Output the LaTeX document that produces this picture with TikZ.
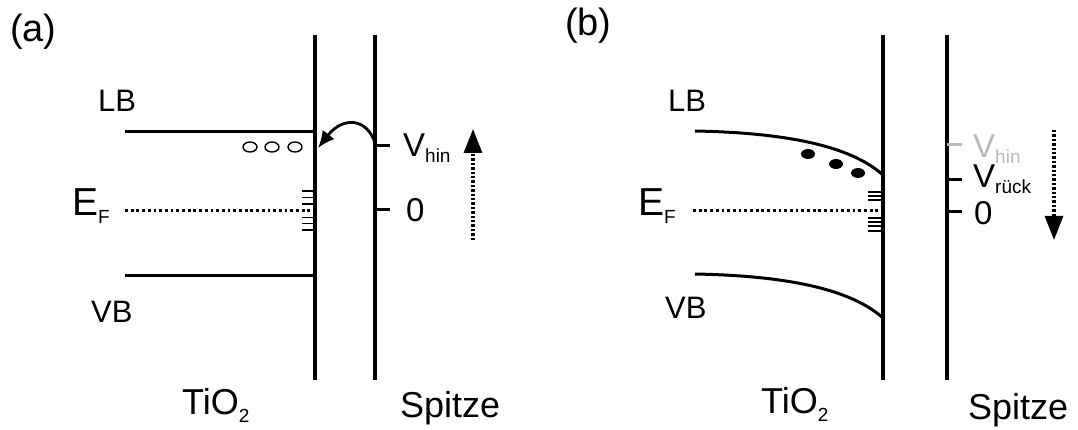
\documentclass[tikz,border=0pt]{standalone}
\usepackage{fontspec}
\setmainfont{Liberation Sans}
\usetikzlibrary{arrows.meta, positioning, calc}

\definecolor{hingray}{HTML}{B8B8B8}
\newcommand{\fs}[1]{\fontsize{#1}{#1}\selectfont}
\newcommand{\lowidx}[2]{\raisebox{-#1}{\fs{19}#2}}

\begin{document}
\begin{tikzpicture}[
    x=1pt, y=-1pt,
    lbl/.style={anchor=base west, inner sep=0pt, font=\fs{33}},
    wall/.style={line width=3.2pt},
    band/.style={line width=3pt},
    fermi/.style={line width=3pt, dash pattern=on 2.8pt off 2.9pt},
    state/.style={line width=1.5pt},
    tick/.style={line width=3pt},
    sweep/.style={line width=3.2pt, dash pattern=on 2.4pt off 2pt, -{Triangle[length=24pt,width=18pt]}}
  ]
  \useasboundingbox (0,0) rectangle (1078,430);

  % (a) flat bands, tip at V_hin
  \coordinate (aTiT) at (315,35);  \coordinate (aTiB) at (315,380);
  \coordinate (aSpT) at (375,35);  \coordinate (aSpB) at (375,380);
  \draw[wall] (aTiT) -- (aTiB);
  \draw[wall] (aSpT) -- (aSpB);
  \coordinate (aLBl) at (125,132);
  \coordinate (aVBl) at (125,275);
  \coordinate (aEFl) at (125,211);
  \draw[band] (aLBl) -- (aLBl -| aTiT);
  \draw[band] (aVBl) -- (aVBl -| aTiT);
  \draw[fermi] (aEFl) -- (310,211);
  \foreach \y in {191,197.5,204,217.5,223.5,230}
    \draw[state] (302,\y) -- (315,\y);
  \foreach \x in {250,272,295}
    \draw[line width=1.4pt] (\x,147) ellipse [x radius=7, y radius=5];
  \coordinate (aHin) at (375,146);
  \coordinate (aZero) at (375,210);
  \draw[tick] (aHin) -- ++(15,0);
  \draw[tick] (aZero) -- ++(15,0);
  \coordinate (aJump) at (318,148);
  \draw[line width=2.8pt, -{Latex[length=17pt,width=15pt]}] (375,143) .. controls (367,118) and (343,116) .. (aJump);
  \coordinate (aUp0) at (473,240);  \coordinate (aUp1) at (473,129);
  \draw[sweep] (aUp0) -- (aUp1);

  \node[lbl, font=\fs{38}] (alab) at (10,42) {(a)};
  \node[lbl, font=\fs{31}] (aLB) at (98,112) {LB};
  \node[lbl, font=\fs{31}] (aVB) at (91,322) {VB};
  \node[lbl, font=\fs{39}] (aEF) at (72,216) {E\lowidx{8pt}{F}};
  \node[lbl] (aVhin) at (403,157) {V\lowidx{6pt}{hin}};
  \node[lbl] (aNull) at (406,222) {0};
  \node[lbl, font=\fs{36}] (aTi) at (182,414) {TiO\lowidx{8pt}{2}};
  \node[lbl, font=\fs{36}] (aSp) at (400,417) {Spitze};

  % (b) bent bands, tip at V_rueck
  \coordinate (bTiT) at (883,35);  \coordinate (bTiB) at (883,380);
  \coordinate (bSpT) at (947,35);  \coordinate (bSpB) at (947,380);
  \draw[wall] (bTiT) -- (bTiB);
  \draw[wall] (bSpT) -- (bSpB);
  \draw[band] (695,131) .. controls (800,133) and (855,150) .. (883,175);
  \draw[band] (695,274) .. controls (800,276) and (855,293) .. (883,318);
  \draw[fermi] (693,211) -- (878,211);
  \foreach \y in {192,196,200,218,222,226,231}
    \draw[state] (868,\y) -- (883,\y);
  \foreach \x/\y in {808/154,836/164,858/173}
    \fill (\x,\y) ellipse [x radius=7, y radius=5];
  \draw[tick, hingray] (947,145) -- ++(15,0);
  \draw[tick] (947,180) -- ++(15,0);
  \draw[tick] (947,212) -- ++(15,0);
  \coordinate (bDn0) at (1054,130);  \coordinate (bDn1) at (1054,240);
  \draw[sweep] (bDn0) -- (bDn1);

  \node[lbl, font=\fs{38}] (blab) at (565,36) {(b)};
  \node[lbl, font=\fs{31}] (bLB) at (668,112) {LB};
  \node[lbl, font=\fs{31}] (bVB) at (665,318) {VB};
  \node[lbl, font=\fs{39}] (bEF) at (638,216) {E\lowidx{8pt}{F}};
  \node[lbl, text=hingray] (bVhin) at (973,158) {V\lowidx{6pt}{hin}};
  \node[lbl] (bVrueck) at (973,188) {V\lowidx{6pt}{rück}};
  \node[lbl] (bNull) at (974,225) {0};
  \node[lbl, font=\fs{36}] (bTi) at (761,413) {TiO\lowidx{8pt}{2}};
  \node[lbl, font=\fs{36}] (bSp) at (968,419) {Spitze};
\end{tikzpicture}
\end{document}
